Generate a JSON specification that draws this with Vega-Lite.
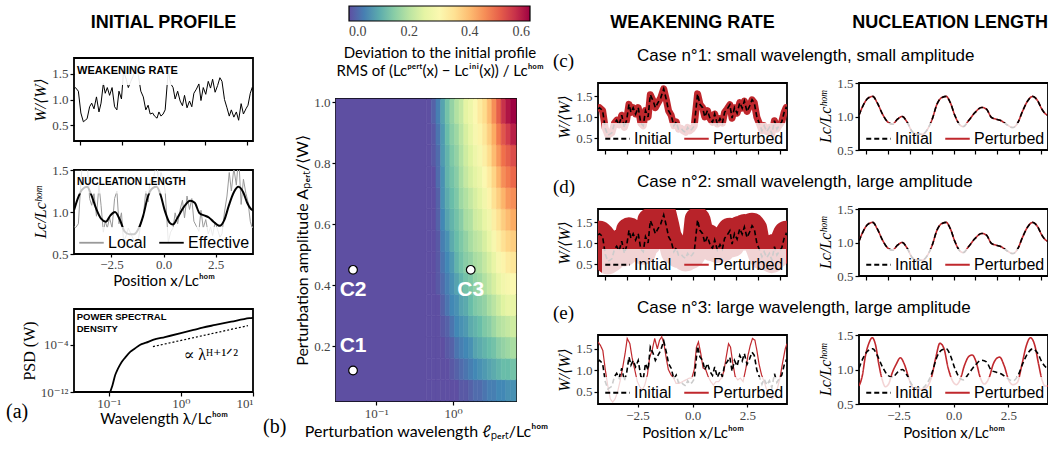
{
"$schema": "https://vega.github.io/schema/vega-lite/v6.json",
"background": "white",
"padding": {"left": 5, "top": 2, "right": 0, "bottom": 0},
"bounds": "flush",
"spacing": 262,
"resolve": {"scale": {"color": "independent", "strokeDash": "independent"}},
"hconcat": [
 {"spacing": 25,
  "resolve": {"scale": {"color": "independent", "strokeDash": "independent"}},
  "vconcat": [
   {"width": 179, "height": 1, "data": {"values": [{}]}, "mark": {"type": "text", "text": ""}, "view": {"stroke": null},
    "title": {"text": "INITIAL PROFILE", "orient": "bottom", "anchor": "middle", "frame": "group", "offset": 0, "font": "'Liberation Sans', Arial, sans-serif", "fontWeight": "bold", "fontSize": 18, "color": "black"}},
   {"spacing": 19,
    "resolve": {"scale": {"color": "independent", "strokeDash": "independent"}},
    "vconcat": [
     {"spacing": 16,
      "resolve": {"scale": {"color": "independent", "strokeDash": "independent"}},
      "vconcat": [
       {"width": 179, "height": 83,
        "layer": [
         {"data": {"name": "W"}, "mark": {"type": "line", "color": "black", "strokeWidth": 1, "clip": true},
          "encoding": {
           "x": {"field": "x", "type": "quantitative", "scale": {"domain": [-4.3, 4.3], "nice": false, "zero": false}, "axis": {"values": [-4,-3,-2,-1,0,1,2,3,4], "labels": false, "title": null}},
           "y": {"field": "w", "type": "quantitative", "scale": {"domain": [0.2, 1.8], "nice": false, "zero": false}, "axis": {"values": [0.5, 1, 1.5], "format": ".1f", "title": "W/⟨W⟩", "titleFont": "'Liberation Serif', 'DejaVu Serif', serif", "titleFontStyle": "italic", "titleFontSize": 16}}}},
         {"data": {"values": [{}]}, "mark": {"type": "rect", "fill": "white", "opacity": 0.9}, "encoding": {"x": {"datum": -4.25}, "x2": {"datum": 0.75}, "y": {"datum": 1.28}, "y2": {"datum": 1.78}}},
         {"data": {"values": [{}]}, "mark": {"type": "text", "text": "WEAKENING RATE", "align": "left", "baseline": "middle", "font": "'Liberation Sans', Arial, sans-serif", "fontWeight": "bold", "fontSize": 11, "color": "black"}, "encoding": {"x": {"datum": -4.15}, "y": {"datum": 1.55}}}
        ]},
       {"width": 179, "height": 84,
        "layer": [
         {"data": {"name": "W"}, "mark": {"type": "line", "strokeWidth": 1, "clip": true},
          "encoding": {
           "x": {"field": "x", "type": "quantitative", "scale": {"domain": [-4.3, 4.3], "nice": false, "zero": false}, "axis": {"values": [-2.5, 0, 2.5], "format": ".1f", "title": "Position x/Lcʰᵒᵐ", "tickSize": 3, "labelPadding": 1, "titlePadding": 2}},
           "y": {"field": "loc", "type": "quantitative", "scale": {"domain": [0.5, 1.5], "nice": false, "zero": false}, "axis": {"values": [0.5, 1, 1.5], "format": ".1f", "title": "Lc/Lcʰᵒᵐ", "titleFont": "'Liberation Serif', 'DejaVu Serif', serif", "titleFontStyle": "italic", "titleFontSize": 16}},
           "color": {"datum": "Local", "type": "nominal", "scale": {"domain": ["Local", "Effective"], "range": ["#9a9a9a", "black"]}, "legend": {"title": null}}}},
         {"data": {"name": "Lc"}, "mark": {"type": "line", "strokeWidth": 2, "interpolate": "monotone", "clip": true},
          "encoding": {
           "x": {"field": "x", "type": "quantitative"},
           "y": {"field": "lc", "type": "quantitative"},
           "color": {"datum": "Effective", "type": "nominal", "scale": {"domain": ["Local", "Effective"], "range": ["#9a9a9a", "black"]}, "legend": {"title": null}}}},
         {"data": {"values": [{}]}, "mark": {"type": "rect", "fill": "white", "opacity": 0.75}, "encoding": {"x": {"datum": -4.25}, "x2": {"datum": 1.2}, "y": {"datum": 1.22}, "y2": {"datum": 1.49}}},
         {"data": {"values": [{}]}, "mark": {"type": "text", "text": "NUCLEATION LENGTH", "align": "left", "baseline": "middle", "font": "'Liberation Sans', Arial, sans-serif", "fontWeight": "bold", "fontSize": 10, "color": "black"}, "encoding": {"x": {"datum": -4.15}, "y": {"datum": 1.355}}}
        ]}
      ]},
     {"width": 179, "height": 83,
      "title": {"text": "(a)", "orient": "bottom", "anchor": "start", "frame": "group", "dx": -68, "offset": -24, "font": "'Liberation Serif', 'DejaVu Serif', serif", "fontSize": 20, "fontWeight": "normal", "color": "black"},
      "layer": [
       {"data": {"name": "psd"}, "mark": {"type": "line", "color": "black", "strokeWidth": 1.8, "interpolate": "monotone", "clip": true},
        "encoding": {
         "x": {"field": "l", "type": "quantitative", "scale": {"type": "log", "domain": [0.033, 10], "nice": false}, "axis": {"values": [0.1, 1, 10], "labelExpr": "datum.value < 0.5 ? '10⁻¹' : datum.value < 5 ? '10⁰' : '10¹'", "title": "Wavelength λ/Lcʰᵒᵐ", "labelPadding": 1, "titlePadding": 1}},
         "y": {"field": "p", "type": "quantitative", "scale": {"type": "log", "domain": [1e-12, 130], "nice": false}, "axis": {"values": [1e-12, 0.0001], "labelExpr": "datum.value < 1e-8 ? '10⁻¹²' : '10⁻⁴'", "title": "PSD (W)", "titleFont": "'Liberation Serif', 'DejaVu Serif', serif", "titleFontSize": 16}}}},
       {"data": {"name": "psdfit"}, "mark": {"type": "line", "color": "black", "strokeWidth": 1.2, "strokeDash": [2, 2]},
        "encoding": {"x": {"field": "l", "type": "quantitative"}, "y": {"field": "p", "type": "quantitative"}}},
       {"data": {"values": [{}]}, "mark": {"type": "text", "text": "∝ λᴴ⁺¹ᐟ²", "font": "'Liberation Serif', 'DejaVu Serif', serif", "fontSize": 16, "align": "center", "baseline": "middle", "color": "black"}, "encoding": {"x": {"datum": 2.6}, "y": {"datum": 2e-6}}},
       {"data": {"values": [{}]}, "mark": {"type": "text", "text": ["POWER SPECTRAL", "DENSITY"], "font": "'Liberation Sans', Arial, sans-serif", "fontWeight": "bold", "fontSize": 9.5, "align": "left", "baseline": "top", "lineHeight": 12, "color": "black"}, "encoding": {"x": {"datum": 0.036}, "y": {"datum": 40}}}
      ]}
    ]}
  ]},
 {"bounds": "flush",
  "spacing": 262,
  "resolve": {"scale": {"color": "independent", "strokeDash": "independent"}},
  "hconcat": [
   {"spacing": -9,
    "resolve": {"scale": {"color": "independent", "strokeDash": "independent"}},
    "vconcat": [
     {"width": 180, "height": 1, "data": {"values": [{}]}, "mark": {"type": "text", "text": ""}, "view": {"stroke": null}},
     {"width": 180, "height": 302,
      "title": {"text": "(b)", "orient": "bottom", "anchor": "start", "frame": "group", "dx": -73, "offset": -22, "font": "'Liberation Serif', 'DejaVu Serif', serif", "fontSize": 20, "fontWeight": "normal", "color": "black"},
      "layer": [
       {"data": {"name": "hcells"},
        "transform": [
         {"lookup": "c", "from": {"data": {"name": "hcols"}, "key": "c", "fields": ["l1", "l2"]}},
         {"lookup": "r", "from": {"data": {"name": "hrows"}, "key": "r", "fields": ["a1", "a2"]}}
        ],
        "mark": {"type": "rect", "strokeWidth": 0.6},
        "encoding": {
         "x": {"field": "l1", "type": "quantitative", "scale": {"type": "log", "domain": [0.03, 6.6], "nice": false}, "axis": {"values": [0.1, 1], "labelExpr": "datum.value < 0.5 ? '10⁻¹' : '10⁰'", "title": "Perturbation wavelength ℓₚₑᵣₜ/Lcʰᵒᵐ", "titleFontSize": 16}},
         "x2": {"field": "l2"},
         "y": {"field": "a1", "type": "quantitative", "scale": {"domain": [0.02, 1.01], "nice": false, "zero": false}, "axis": {"values": [0.2, 0.4, 0.6, 0.8, 1.0], "format": ".1f", "title": "Perturbation amplitude Aₚₑᵣₜ/⟨W⟩", "titleFontSize": 16}},
         "y2": {"field": "a2"},
         "stroke": {"field": "v", "type": "quantitative", "scale": {"scheme": {"name": "spectral", "extent": [1, 0]}, "domain": [0, 0.6]}, "legend": null},
         "color": {"field": "v", "type": "quantitative", "scale": {"scheme": {"name": "spectral", "extent": [1, 0]}, "domain": [0, 0.6]},
          "legend": {"orient": "top", "direction": "horizontal", "gradientLength": 181, "gradientThickness": 15, "title": ["Deviation to the initial profile", "RMS of (Lcᵖᵉʳᵗ(x) − Lcⁱⁿⁱ(x)) / Lcʰᵒᵐ"], "titleOrient": "bottom", "titleAnchor": "middle", "titleLimit": 400, "titleFont": "Lato, 'Open Sans', sans-serif", "titleFontSize": 15, "titleFontWeight": "normal", "titleLineHeight": 18, "titlePadding": 7, "values": [0, 0.2, 0.4, 0.6], "format": ".1f", "labelFont": "'Liberation Serif', 'DejaVu Serif', serif", "labelFontSize": 14, "labelColor": "#444", "gradientStrokeColor": "black", "gradientStrokeWidth": 1.2, "offset": 20, "fillColor": "transparent", "padding": 0, "labelOffset": 4}}}},
       {"data": {"name": "hpts"}, "mark": {"type": "point", "shape": "circle", "filled": true, "fill": "white", "stroke": "black", "strokeWidth": 1.2, "size": 75, "opacity": 1},
        "encoding": {"x": {"field": "l", "type": "quantitative"}, "y": {"field": "a", "type": "quantitative"}}},
       {"data": {"name": "hlab"}, "mark": {"type": "text", "color": "white", "font": "'Liberation Sans', Arial, sans-serif", "fontWeight": "bold", "fontSize": 21, "baseline": "middle"},
        "encoding": {"x": {"field": "l", "type": "quantitative"}, "y": {"field": "a", "type": "quantitative"}, "text": {"field": "t"}}}
      ]}
    ]},
   {"spacing": 14,
    "resolve": {"scale": {"color": "independent", "strokeDash": "independent"}},
    "vconcat": [
     {"bounds": "flush", "spacing": 72,
      "hconcat": [
       {"width": 189, "height": 1, "data": {"values": [{}]}, "mark": {"type": "text", "text": ""}, "view": {"stroke": null},
        "title": {"text": "WEAKENING RATE", "orient": "bottom", "anchor": "middle", "frame": "group", "offset": 0, "font": "'Liberation Sans', Arial, sans-serif", "fontWeight": "bold", "fontSize": 18, "color": "black"}},
       {"width": 189, "height": 1, "data": {"values": [{}]}, "mark": {"type": "text", "text": ""}, "view": {"stroke": null},
        "title": {"text": "NUCLEATION LENGTH", "orient": "bottom", "anchor": "end", "frame": "group", "offset": 0, "font": "'Liberation Sans', Arial, sans-serif", "fontWeight": "bold", "fontSize": 18, "color": "black"}}
      ]},
     {"bounds": "flush", "spacing": 72,
      "resolve": {"scale": {"color": "independent", "strokeDash": "independent"}},
      "hconcat": [
       {"width": 189, "height": 67,
        "title": {"text": "(c)", "anchor": "start", "frame": "group", "dx": -45, "font": "'Liberation Serif', 'DejaVu Serif', serif", "fontSize": 19, "fontWeight": "normal", "offset": 12, "color": "black"},
        "data": {"name": "W"},
        "encoding": {
         "x": {"field": "x", "type": "quantitative", "scale": {"domain": [-4.3, 4.3], "nice": false, "zero": false}, "axis": {"values": [-4,-3,-2,-1,0,1,2,3,4], "labels": false, "title": null}},
         "y": {"field": "w", "type": "quantitative", "scale": {"domain": [0.22, 1.82], "nice": false, "zero": false}, "axis": {"values": [0.5, 1, 1.5], "format": ".1f", "title": "W/⟨W⟩", "titleFont": "'Liberation Serif', 'DejaVu Serif', serif", "titleFontStyle": "italic", "titleFontSize": 16}}},
        "layer": [
         {"mark": {"type": "line", "color": "#c0282d", "strokeWidth": 7, "strokeJoin": "round", "clip": true}},
         {"mark": {"type": "line", "strokeWidth": 1.6, "clip": true},
          "encoding": {
           "color": {"datum": "Initial", "type": "nominal", "scale": {"domain": ["Initial", "Perturbed"], "range": ["black", "#c0282d"]}, "legend": {"title": null}},
           "strokeDash": {"datum": "Initial", "type": "nominal", "scale": {"domain": ["Initial", "Perturbed"], "range": [[5, 3], [1, 0]]}, "legend": {"title": null}}}}
        ]},
       {"width": 189, "height": 67,
        "title": {"text": "Case n°1: small wavelength, small amplitude", "anchor": "start", "frame": "group", "dx": -222, "font": "'Liberation Sans', Arial, sans-serif", "fontSize": 17, "fontWeight": "normal", "offset": 12, "color": "black"},
        "data": {"name": "Lc"},
        "encoding": {
         "x": {"field": "x", "type": "quantitative", "scale": {"domain": [-4.3, 4.3], "nice": false, "zero": false}, "axis": {"values": [-4,-3,-2,-1,0,1,2,3,4], "labels": false, "title": null}},
         "y": {"field": "lc", "type": "quantitative", "scale": {"domain": [0.5, 1.5], "nice": false, "zero": false}, "axis": {"values": [0.5, 1, 1.5], "format": ".1f", "title": "Lc/Lcʰᵒᵐ", "titleFont": "'Liberation Serif', 'DejaVu Serif', serif", "titleFontStyle": "italic", "titleFontSize": 16}}},
        "layer": [
         {"mark": {"type": "line", "strokeWidth": 1.6, "interpolate": "monotone", "clip": true},
          "encoding": {
           "color": {"datum": "Perturbed", "type": "nominal", "scale": {"domain": ["Initial", "Perturbed"], "range": ["black", "#c0282d"]}, "legend": {"title": null}},
           "strokeDash": {"datum": "Perturbed", "type": "nominal", "scale": {"domain": ["Initial", "Perturbed"], "range": [[5, 3], [1, 0]]}, "legend": {"title": null}}}},
         {"mark": {"type": "line", "strokeWidth": 1.6, "interpolate": "monotone", "clip": true},
          "encoding": {"color": {"datum": "Initial", "type": "nominal"}, "strokeDash": {"datum": "Initial", "type": "nominal"}}}
        ]}
      ]},
     {"bounds": "flush", "spacing": 72,
      "resolve": {"scale": {"color": "independent", "strokeDash": "independent"}},
      "hconcat": [
       {"width": 189, "height": 67,
        "title": {"text": "(d)", "anchor": "start", "frame": "group", "dx": -45, "font": "'Liberation Serif', 'DejaVu Serif', serif", "fontSize": 19, "fontWeight": "normal", "offset": 12, "color": "black"},
        "data": {"name": "W"},
        "encoding": {
         "x": {"field": "x", "type": "quantitative", "scale": {"domain": [-4.3, 4.3], "nice": false, "zero": false}, "axis": {"values": [-4,-3,-2,-1,0,1,2,3,4], "labels": false, "title": null}},
         "y": {"field": "w", "type": "quantitative", "scale": {"domain": [0.22, 1.82], "nice": false, "zero": false}, "axis": {"values": [0.5, 1, 1.5], "format": ".1f", "title": "W/⟨W⟩", "titleFont": "'Liberation Serif', 'DejaVu Serif', serif", "titleFontStyle": "italic", "titleFontSize": 16}}},
        "layer": [
         {"mark": {"type": "line", "color": "#b8232a", "strokeWidth": 26, "strokeJoin": "round", "clip": true}},
         {"mark": {"type": "line", "strokeWidth": 1.6, "clip": true},
          "encoding": {
           "color": {"datum": "Initial", "type": "nominal", "scale": {"domain": ["Initial", "Perturbed"], "range": ["black", "#c0282d"]}, "legend": {"title": null}},
           "strokeDash": {"datum": "Initial", "type": "nominal", "scale": {"domain": ["Initial", "Perturbed"], "range": [[5, 3], [1, 0]]}, "legend": {"title": null}}}}
        ]},
       {"width": 189, "height": 67,
        "title": {"text": "Case n°2: small wavelength, large amplitude", "anchor": "start", "frame": "group", "dx": -222, "font": "'Liberation Sans', Arial, sans-serif", "fontSize": 17, "fontWeight": "normal", "offset": 12, "color": "black"},
        "data": {"name": "Lc"},
        "encoding": {
         "x": {"field": "x", "type": "quantitative", "scale": {"domain": [-4.3, 4.3], "nice": false, "zero": false}, "axis": {"values": [-4,-3,-2,-1,0,1,2,3,4], "labels": false, "title": null}},
         "y": {"field": "lc", "type": "quantitative", "scale": {"domain": [0.5, 1.5], "nice": false, "zero": false}, "axis": {"values": [0.5, 1, 1.5], "format": ".1f", "title": "Lc/Lcʰᵒᵐ", "titleFont": "'Liberation Serif', 'DejaVu Serif', serif", "titleFontStyle": "italic", "titleFontSize": 16}}},
        "layer": [
         {"mark": {"type": "line", "strokeWidth": 1.6, "interpolate": "monotone", "clip": true},
          "encoding": {
           "color": {"datum": "Perturbed", "type": "nominal", "scale": {"domain": ["Initial", "Perturbed"], "range": ["black", "#c0282d"]}, "legend": {"title": null}},
           "strokeDash": {"datum": "Perturbed", "type": "nominal", "scale": {"domain": ["Initial", "Perturbed"], "range": [[5, 3], [1, 0]]}, "legend": {"title": null}}}},
         {"mark": {"type": "line", "strokeWidth": 1.6, "interpolate": "monotone", "clip": true},
          "encoding": {"color": {"datum": "Initial", "type": "nominal"}, "strokeDash": {"datum": "Initial", "type": "nominal"}}}
        ]}
      ]},
     {"bounds": "flush", "spacing": 72,
      "resolve": {"scale": {"color": "independent", "strokeDash": "independent"}},
      "hconcat": [
       {"width": 189, "height": 69,
        "title": {"text": "(e)", "anchor": "start", "frame": "group", "dx": -45, "font": "'Liberation Serif', 'DejaVu Serif', serif", "fontSize": 19, "fontWeight": "normal", "offset": 12, "color": "black"},
        "encoding": {
         "x": {"field": "x", "type": "quantitative", "scale": {"domain": [-4.3, 4.3], "nice": false, "zero": false}, "axis": {"values": [-2.5, 0, 2.5], "format": ".1f", "title": "Position x/Lcʰᵒᵐ", "tickSize": 3}},
         "y": {"field": "w", "type": "quantitative", "scale": {"domain": [0.22, 1.82], "nice": false, "zero": false}, "axis": {"values": [0.5, 1, 1.5], "format": ".1f", "title": "W/⟨W⟩", "titleFont": "'Liberation Serif', 'DejaVu Serif', serif", "titleFontStyle": "italic", "titleFontSize": 16}}},
        "layer": [
         {"data": {"name": "We"}, "mark": {"type": "line", "strokeWidth": 1.2, "clip": true},
          "encoding": {
           "color": {"datum": "Perturbed", "type": "nominal", "scale": {"domain": ["Initial", "Perturbed"], "range": ["black", "#c0282d"]}, "legend": {"title": null}},
           "strokeDash": {"datum": "Perturbed", "type": "nominal", "scale": {"domain": ["Initial", "Perturbed"], "range": [[5, 3], [1, 0]]}, "legend": {"title": null}}}},
         {"data": {"name": "W"}, "mark": {"type": "line", "strokeWidth": 1.6, "clip": true},
          "encoding": {"color": {"datum": "Initial", "type": "nominal"}, "strokeDash": {"datum": "Initial", "type": "nominal"}}}
        ]},
       {"width": 189, "height": 69,
        "title": {"text": "Case n°3: large wavelength, large amplitude", "anchor": "start", "frame": "group", "dx": -222, "font": "'Liberation Sans', Arial, sans-serif", "fontSize": 17, "fontWeight": "normal", "offset": 12, "color": "black"},
        "encoding": {
         "x": {"field": "x", "type": "quantitative", "scale": {"domain": [-4.3, 4.3], "nice": false, "zero": false}, "axis": {"values": [-2.5, 0, 2.5], "format": ".1f", "title": "Position x/Lcʰᵒᵐ", "tickSize": 3}},
         "y": {"field": "lc", "type": "quantitative", "scale": {"domain": [0.5, 1.5], "nice": false, "zero": false}, "axis": {"values": [0.5, 1, 1.5], "format": ".1f", "title": "Lc/Lcʰᵒᵐ", "titleFont": "'Liberation Serif', 'DejaVu Serif', serif", "titleFontStyle": "italic", "titleFontSize": 16}}},
        "layer": [
         {"data": {"name": "Lce"}, "mark": {"type": "line", "strokeWidth": 1.6, "interpolate": "monotone", "clip": true},
          "encoding": {
           "color": {"datum": "Perturbed", "type": "nominal", "scale": {"domain": ["Initial", "Perturbed"], "range": ["black", "#c0282d"]}, "legend": {"title": null}},
           "strokeDash": {"datum": "Perturbed", "type": "nominal", "scale": {"domain": ["Initial", "Perturbed"], "range": [[5, 3], [1, 0]]}, "legend": {"title": null}}}},
         {"data": {"name": "Lc"}, "mark": {"type": "line", "strokeWidth": 1.6, "interpolate": "monotone", "clip": true},
          "encoding": {"color": {"datum": "Initial", "type": "nominal"}, "strokeDash": {"datum": "Initial", "type": "nominal"}}}
        ]}
      ]}
    ]}
  ]}
],
"datasets": {
 "W": [
  {"x":-4.3,"w":1.2,"loc":0.83},{"x":-4.23,"w":1.23,"loc":0.81},{"x":-4.09,"w":1.16,"loc":0.86},{"x":-3.97,"w":0.74,"loc":1.35},{"x":-3.85,"w":0.57,"loc":1.75},{"x":-3.76,"w":0.6,"loc":1.67},{"x":-3.67,"w":0.63,"loc":1.59},{"x":-3.55,"w":0.86,"loc":1.16},{"x":-3.45,"w":0.93,"loc":1.08},{"x":-3.34,"w":0.82,"loc":1.22},{"x":-3.22,"w":1.05,"loc":0.95},{"x":-3.1,"w":0.76,"loc":1.32},{"x":-3.0,"w":0.93,"loc":1.08},{"x":-2.89,"w":1.31,"loc":0.76},{"x":-2.8,"w":1.12,"loc":0.89},{"x":-2.7,"w":1.23,"loc":0.81},{"x":-2.59,"w":1.08,"loc":0.93},{"x":-2.47,"w":1.23,"loc":0.81},{"x":-2.35,"w":0.86,"loc":1.16},{"x":-2.24,"w":0.8,"loc":1.25},{"x":-2.14,"w":1.16,"loc":0.86},{"x":-2.02,"w":1.01,"loc":0.99},{"x":-1.92,"w":1.54,"loc":0.65},{"x":-1.79,"w":1.39,"loc":0.72},{"x":-1.69,"w":1.23,"loc":0.81},{"x":-1.57,"w":1.35,"loc":0.74},{"x":-1.45,"w":1.46,"loc":0.68},{"x":-1.31,"w":1.68,"loc":0.6},{"x":-1.19,"w":1.42,"loc":0.7},{"x":-1.09,"w":1.16,"loc":0.86},{"x":-0.97,"w":1.05,"loc":0.95},{"x":-0.85,"w":0.8,"loc":1.25},{"x":-0.74,"w":0.89,"loc":1.12},{"x":-0.64,"w":0.72,"loc":1.39},{"x":-0.52,"w":0.74,"loc":1.35},{"x":-0.43,"w":0.68,"loc":1.47},{"x":-0.31,"w":0.64,"loc":1.56},{"x":-0.22,"w":0.76,"loc":1.32},{"x":-0.12,"w":0.68,"loc":1.47},{"x":-0.02,"w":0.72,"loc":1.39},{"x":0.08,"w":0.8,"loc":1.25},{"x":0.23,"w":1.56,"loc":0.64},{"x":0.34,"w":1.31,"loc":0.76},{"x":0.46,"w":1.23,"loc":0.81},{"x":0.56,"w":1.01,"loc":0.99},{"x":0.68,"w":1.16,"loc":0.86},{"x":0.8,"w":0.97,"loc":1.03},{"x":0.91,"w":0.88,"loc":1.14},{"x":1.01,"w":1.08,"loc":0.93},{"x":1.13,"w":0.84,"loc":1.19},{"x":1.25,"w":0.97,"loc":1.03},{"x":1.36,"w":0.86,"loc":1.16},{"x":1.46,"w":1.12,"loc":0.89},{"x":1.58,"w":1.2,"loc":0.83},{"x":1.7,"w":1.3,"loc":0.77},{"x":1.8,"w":0.98,"loc":1.02},{"x":1.91,"w":1.23,"loc":0.81},{"x":2.03,"w":1.1,"loc":0.91},{"x":2.15,"w":1.35,"loc":0.74},{"x":2.26,"w":1.22,"loc":0.82},{"x":2.36,"w":1.39,"loc":0.72},{"x":2.48,"w":1.14,"loc":0.88},{"x":2.6,"w":1.27,"loc":0.79},{"x":2.71,"w":1.42,"loc":0.7},{"x":2.81,"w":1.35,"loc":0.74},{"x":2.93,"w":1.0,"loc":1.0},{"x":3.05,"w":0.84,"loc":1.19},{"x":3.16,"w":0.68,"loc":1.47},{"x":3.26,"w":0.8,"loc":1.25},{"x":3.38,"w":0.66,"loc":1.52},{"x":3.5,"w":0.76,"loc":1.32},{"x":3.61,"w":0.6,"loc":1.67},{"x":3.73,"w":0.92,"loc":1.09},{"x":3.84,"w":0.72,"loc":1.39},{"x":3.96,"w":0.82,"loc":1.22},{"x":4.06,"w":0.89,"loc":1.12},{"x":4.17,"w":1.12,"loc":0.89},{"x":4.26,"w":1.23,"loc":0.81},{"x":4.3,"w":1.2,"loc":0.83}
 ],
 "Lc": [
  {"x":-4.3,"lc":1.02},{"x":-4.12,"lc":1.16},{"x":-3.9,"lc":1.27},{"x":-3.67,"lc":1.3},{"x":-3.48,"lc":1.21},{"x":-3.22,"lc":1.03},{"x":-3.0,"lc":0.92},{"x":-2.77,"lc":0.885},{"x":-2.55,"lc":0.96},{"x":-2.33,"lc":1.0},{"x":-2.1,"lc":0.91},{"x":-1.87,"lc":0.77},{"x":-1.64,"lc":0.735},{"x":-1.42,"lc":0.735},{"x":-1.2,"lc":0.8},{"x":-0.97,"lc":0.96},{"x":-0.75,"lc":1.185},{"x":-0.52,"lc":1.285},{"x":-0.33,"lc":1.3},{"x":-0.15,"lc":1.21},{"x":0.07,"lc":1.01},{"x":0.3,"lc":0.87},{"x":0.45,"lc":0.85},{"x":0.68,"lc":0.935},{"x":0.98,"lc":1.06},{"x":1.28,"lc":1.135},{"x":1.5,"lc":1.11},{"x":1.73,"lc":0.985},{"x":1.95,"lc":0.96},{"x":2.18,"lc":0.935},{"x":2.4,"lc":0.885},{"x":2.7,"lc":0.835},{"x":2.93,"lc":0.91},{"x":3.15,"lc":1.085},{"x":3.38,"lc":1.235},{"x":3.6,"lc":1.3},{"x":3.83,"lc":1.235},{"x":4.02,"lc":1.11},{"x":4.2,"lc":1.035},{"x":4.3,"lc":1.02}
 ],
 "We": [
  {"x":-4.3,"w":1.66},{"x":-4.19,"w":1.58},{"x":-4.08,"w":1.46},{"x":-3.97,"w":1.02},{"x":-3.86,"w":0.66},{"x":-3.74,"w":0.34},{"x":-3.63,"w":0.26},{"x":-3.52,"w":0.34},{"x":-3.41,"w":0.5},{"x":-3.3,"w":0.74},{"x":-3.18,"w":1.06},{"x":-3.07,"w":1.38},{"x":-2.97,"w":1.74},{"x":-2.85,"w":1.62},{"x":-2.75,"w":1.3},{"x":-2.63,"w":1.02},{"x":-2.51,"w":0.74},{"x":-2.4,"w":0.62},{"x":-2.29,"w":0.54},{"x":-2.17,"w":0.66},{"x":-2.05,"w":0.9},{"x":-1.95,"w":1.3},{"x":-1.84,"w":1.46},{"x":-1.72,"w":1.74},{"x":-1.6,"w":1.5},{"x":-1.5,"w":1.7},{"x":-1.4,"w":1.78},{"x":-1.3,"w":1.62},{"x":-1.2,"w":1.3},{"x":-1.1,"w":1.02},{"x":-0.98,"w":0.9},{"x":-0.86,"w":0.82},{"x":-0.75,"w":0.7},{"x":-0.6,"w":0.7},{"x":-0.45,"w":0.74},{"x":-0.3,"w":0.78},{"x":-0.15,"w":0.82},{"x":-0.03,"w":0.82},{"x":0.08,"w":1.02},{"x":0.18,"w":1.54},{"x":0.27,"w":1.66},{"x":0.38,"w":1.38},{"x":0.48,"w":1.06},{"x":0.6,"w":1.02},{"x":0.71,"w":0.86},{"x":0.83,"w":0.74},{"x":0.95,"w":0.66},{"x":1.07,"w":0.74},{"x":1.19,"w":0.74},{"x":1.31,"w":0.82},{"x":1.43,"w":0.98},{"x":1.53,"w":1.3},{"x":1.64,"w":1.62},{"x":1.73,"w":1.54},{"x":1.83,"w":1.18},{"x":1.94,"w":0.86},{"x":2.06,"w":0.78},{"x":2.18,"w":0.82},{"x":2.3,"w":0.74},{"x":2.42,"w":1.02},{"x":2.52,"w":1.34},{"x":2.63,"w":1.58},{"x":2.73,"w":1.74},{"x":2.84,"w":1.7},{"x":2.93,"w":1.46},{"x":3.03,"w":1.14},{"x":3.14,"w":0.9},{"x":3.26,"w":0.74},{"x":3.38,"w":0.54},{"x":3.5,"w":0.46},{"x":3.62,"w":0.34},{"x":3.74,"w":0.42},{"x":3.86,"w":0.58},{"x":3.98,"w":0.82},{"x":4.1,"w":1.18},{"x":4.22,"w":1.5},{"x":4.3,"w":1.62}
 ],
 "Lce": [
  {"x":-4.3,"lc":0.76},{"x":-4.15,"lc":0.91},{"x":-4.0,"lc":1.21},{"x":-3.85,"lc":1.38},{"x":-3.7,"lc":1.46},{"x":-3.55,"lc":1.36},{"x":-3.4,"lc":1.08},{"x":-3.25,"lc":0.86},{"x":-3.1,"lc":0.75},{"x":-2.95,"lc":0.79},{"x":-2.8,"lc":0.94},{"x":-2.6,"lc":1.08},{"x":-2.42,"lc":1.17},{"x":-2.24,"lc":1.08},{"x":-2.05,"lc":0.89},{"x":-1.9,"lc":0.76},{"x":-1.68,"lc":0.71},{"x":-1.45,"lc":0.71},{"x":-1.23,"lc":0.74},{"x":-1.0,"lc":0.89},{"x":-0.8,"lc":1.18},{"x":-0.62,"lc":1.38},{"x":-0.44,"lc":1.31},{"x":-0.25,"lc":1.03},{"x":-0.05,"lc":0.84},{"x":0.13,"lc":0.78},{"x":0.31,"lc":0.86},{"x":0.5,"lc":1.06},{"x":0.7,"lc":1.19},{"x":0.85,"lc":1.21},{"x":1.03,"lc":1.11},{"x":1.21,"lc":0.89},{"x":1.4,"lc":0.79},{"x":1.63,"lc":0.89},{"x":1.81,"lc":1.08},{"x":2.0,"lc":1.17},{"x":2.1,"lc":1.18},{"x":2.3,"lc":1.06},{"x":2.52,"lc":0.84},{"x":2.7,"lc":0.78},{"x":2.9,"lc":0.81},{"x":3.12,"lc":1.08},{"x":3.3,"lc":1.33},{"x":3.5,"lc":1.46},{"x":3.69,"lc":1.36},{"x":3.87,"lc":1.08},{"x":4.02,"lc":0.86},{"x":4.17,"lc":0.76},{"x":4.3,"lc":0.76}
 ],
 "psd": [
  {"l":0.095,"p":1e-15},{"l":0.1,"p":1e-13},{"l":0.105,"p":1e-12},{"l":0.113,"p":1.6e-11},{"l":0.123,"p":7.9e-10},{"l":0.13,"p":4e-9},{"l":0.14,"p":2.5e-8},{"l":0.152,"p":1.4e-7},{"l":0.17,"p":7.9e-7},{"l":0.2,"p":7.2e-6},{"l":0.23,"p":2.5e-5},{"l":0.27,"p":0.0001},{"l":0.33,"p":0.00025},{"l":0.41,"p":0.00071},{"l":0.6,"p":0.0022},{"l":1.0,"p":0.01},{"l":1.5,"p":0.035},{"l":2,"p":0.089},{"l":3,"p":0.25},{"l":5,"p":0.89},{"l":8.9,"p":3.5},{"l":10,"p":4.2}
 ],
 "psdfit": [{"l":0.41,"p":5.2e-5},{"l":8.5,"p":0.19}],
 "hpts": [{"l":0.05,"a":0.12},{"l":0.05,"a":0.45},{"l":1.7,"a":0.45}],
 "hlab": [{"l":0.05,"a":0.2,"t":"C1"},{"l":0.05,"a":0.385,"t":"C2"},{"l":1.7,"a":0.385,"t":"C3"}],
 "hcols": [
  {"c":-1,"l1":0.03,"l2":0.45},{"c":0,"l1":0.45,"l2":0.52},{"c":1,"l1":0.52,"l2":0.6},{"c":2,"l1":0.6,"l2":0.69},{"c":3,"l1":0.69,"l2":0.79},{"c":4,"l1":0.79,"l2":0.91},{"c":5,"l1":0.91,"l2":1.05},{"c":6,"l1":1.05,"l2":1.2},{"c":7,"l1":1.2,"l2":1.38},{"c":8,"l1":1.38,"l2":1.59},{"c":9,"l1":1.59,"l2":1.83},{"c":10,"l1":1.83,"l2":2.1},{"c":11,"l1":2.1,"l2":2.42},{"c":12,"l1":2.42,"l2":2.78},{"c":13,"l1":2.78,"l2":3.2},{"c":14,"l1":3.2,"l2":3.68},{"c":15,"l1":3.68,"l2":4.23},{"c":16,"l1":4.23,"l2":4.86},{"c":17,"l1":4.86,"l2":5.6},{"c":18,"l1":5.6,"l2":6.6}
 ],
 "hrows": [
  {"r":-1,"a1":0.02,"a2":1.01},{"r":0,"a1":0.02,"a2":0.09},{"r":1,"a1":0.09,"a2":0.16},{"r":2,"a1":0.16,"a2":0.23},{"r":3,"a1":0.23,"a2":0.3},{"r":4,"a1":0.3,"a2":0.37},{"r":5,"a1":0.37,"a2":0.44},{"r":6,"a1":0.44,"a2":0.51},{"r":7,"a1":0.51,"a2":0.58},{"r":8,"a1":0.58,"a2":0.65},{"r":9,"a1":0.65,"a2":0.72},{"r":10,"a1":0.72,"a2":0.79},{"r":11,"a1":0.79,"a2":0.86},{"r":12,"a1":0.86,"a2":0.93},{"r":13,"a1":0.93,"a2":1.01}
 ],
 "hcells": [
  {"c":-1,"r":-1,"v":0},
  {"c":0,"r":0,"v":0},{"c":0,"r":1,"v":0},{"c":0,"r":2,"v":0},{"c":0,"r":3,"v":0},{"c":0,"r":4,"v":0},{"c":0,"r":5,"v":0},{"c":0,"r":6,"v":0},{"c":0,"r":7,"v":0},{"c":0,"r":8,"v":0},{"c":0,"r":9,"v":0},{"c":0,"r":10,"v":0},{"c":0,"r":11,"v":0},{"c":0,"r":12,"v":0},{"c":0,"r":13,"v":0},
  {"c":1,"r":0,"v":0},{"c":1,"r":1,"v":0},{"c":1,"r":2,"v":0},{"c":1,"r":3,"v":0},{"c":1,"r":4,"v":0},{"c":1,"r":5,"v":0},{"c":1,"r":6,"v":0},{"c":1,"r":7,"v":0},{"c":1,"r":8,"v":0},{"c":1,"r":9,"v":0},{"c":1,"r":10,"v":0},{"c":1,"r":11,"v":0.01},{"c":1,"r":12,"v":0.01},{"c":1,"r":13,"v":0.02},
  {"c":2,"r":0,"v":0},{"c":2,"r":1,"v":0},{"c":2,"r":2,"v":0},{"c":2,"r":3,"v":0},{"c":2,"r":4,"v":0},{"c":2,"r":5,"v":0.01},{"c":2,"r":6,"v":0.01},{"c":2,"r":7,"v":0.01},{"c":2,"r":8,"v":0.02},{"c":2,"r":9,"v":0.02},{"c":2,"r":10,"v":0.03},{"c":2,"r":11,"v":0.03},{"c":2,"r":12,"v":0.04},{"c":2,"r":13,"v":0.05},
  {"c":3,"r":0,"v":0},{"c":3,"r":1,"v":0},{"c":3,"r":2,"v":0},{"c":3,"r":3,"v":0.01},{"c":3,"r":4,"v":0.02},{"c":3,"r":5,"v":0.03},{"c":3,"r":6,"v":0.04},{"c":3,"r":7,"v":0.05},{"c":3,"r":8,"v":0.06},{"c":3,"r":9,"v":0.07},{"c":3,"r":10,"v":0.07},{"c":3,"r":11,"v":0.08},{"c":3,"r":12,"v":0.08},{"c":3,"r":13,"v":0.09},
  {"c":4,"r":0,"v":0},{"c":4,"r":1,"v":0},{"c":4,"r":2,"v":0.01},{"c":4,"r":3,"v":0.02},{"c":4,"r":4,"v":0.04},{"c":4,"r":5,"v":0.05},{"c":4,"r":6,"v":0.06},{"c":4,"r":7,"v":0.07},{"c":4,"r":8,"v":0.09},{"c":4,"r":9,"v":0.1},{"c":4,"r":10,"v":0.11},{"c":4,"r":11,"v":0.11},{"c":4,"r":12,"v":0.12},{"c":4,"r":13,"v":0.13},
  {"c":5,"r":0,"v":0},{"c":5,"r":1,"v":0.01},{"c":5,"r":2,"v":0.02},{"c":5,"r":3,"v":0.04},{"c":5,"r":4,"v":0.06},{"c":5,"r":5,"v":0.07},{"c":5,"r":6,"v":0.08},{"c":5,"r":7,"v":0.1},{"c":5,"r":8,"v":0.11},{"c":5,"r":9,"v":0.12},{"c":5,"r":10,"v":0.13},{"c":5,"r":11,"v":0.14},{"c":5,"r":12,"v":0.15},{"c":5,"r":13,"v":0.16},
  {"c":6,"r":0,"v":0},{"c":6,"r":1,"v":0.02},{"c":6,"r":2,"v":0.04},{"c":6,"r":3,"v":0.06},{"c":6,"r":4,"v":0.07},{"c":6,"r":5,"v":0.09},{"c":6,"r":6,"v":0.11},{"c":6,"r":7,"v":0.12},{"c":6,"r":8,"v":0.13},{"c":6,"r":9,"v":0.14},{"c":6,"r":10,"v":0.15},{"c":6,"r":11,"v":0.16},{"c":6,"r":12,"v":0.17},{"c":6,"r":13,"v":0.19},
  {"c":7,"r":0,"v":0.01},{"c":7,"r":1,"v":0.03},{"c":7,"r":2,"v":0.05},{"c":7,"r":3,"v":0.07},{"c":7,"r":4,"v":0.09},{"c":7,"r":5,"v":0.11},{"c":7,"r":6,"v":0.13},{"c":7,"r":7,"v":0.14},{"c":7,"r":8,"v":0.15},{"c":7,"r":9,"v":0.17},{"c":7,"r":10,"v":0.18},{"c":7,"r":11,"v":0.19},{"c":7,"r":12,"v":0.2},{"c":7,"r":13,"v":0.21},
  {"c":8,"r":0,"v":0.01},{"c":8,"r":1,"v":0.04},{"c":8,"r":2,"v":0.06},{"c":8,"r":3,"v":0.08},{"c":8,"r":4,"v":0.1},{"c":8,"r":5,"v":0.13},{"c":8,"r":6,"v":0.15},{"c":8,"r":7,"v":0.16},{"c":8,"r":8,"v":0.18},{"c":8,"r":9,"v":0.19},{"c":8,"r":10,"v":0.21},{"c":8,"r":11,"v":0.22},{"c":8,"r":12,"v":0.23},{"c":8,"r":13,"v":0.25},
  {"c":9,"r":0,"v":0.02},{"c":9,"r":1,"v":0.05},{"c":9,"r":2,"v":0.07},{"c":9,"r":3,"v":0.1},{"c":9,"r":4,"v":0.12},{"c":9,"r":5,"v":0.14},{"c":9,"r":6,"v":0.16},{"c":9,"r":7,"v":0.18},{"c":9,"r":8,"v":0.19},{"c":9,"r":9,"v":0.21},{"c":9,"r":10,"v":0.23},{"c":9,"r":11,"v":0.24},{"c":9,"r":12,"v":0.26},{"c":9,"r":13,"v":0.27},
  {"c":10,"r":0,"v":0.03},{"c":10,"r":1,"v":0.06},{"c":10,"r":2,"v":0.09},{"c":10,"r":3,"v":0.11},{"c":10,"r":4,"v":0.14},{"c":10,"r":5,"v":0.16},{"c":10,"r":6,"v":0.18},{"c":10,"r":7,"v":0.2},{"c":10,"r":8,"v":0.22},{"c":10,"r":9,"v":0.23},{"c":10,"r":10,"v":0.25},{"c":10,"r":11,"v":0.27},{"c":10,"r":12,"v":0.29},{"c":10,"r":13,"v":0.3},
  {"c":11,"r":0,"v":0.03},{"c":11,"r":1,"v":0.07},{"c":11,"r":2,"v":0.1},{"c":11,"r":3,"v":0.12},{"c":11,"r":4,"v":0.15},{"c":11,"r":5,"v":0.17},{"c":11,"r":6,"v":0.19},{"c":11,"r":7,"v":0.21},{"c":11,"r":8,"v":0.23},{"c":11,"r":9,"v":0.25},{"c":11,"r":10,"v":0.27},{"c":11,"r":11,"v":0.29},{"c":11,"r":12,"v":0.31},{"c":11,"r":13,"v":0.33},
  {"c":12,"r":0,"v":0.04},{"c":12,"r":1,"v":0.08},{"c":12,"r":2,"v":0.11},{"c":12,"r":3,"v":0.14},{"c":12,"r":4,"v":0.16},{"c":12,"r":5,"v":0.19},{"c":12,"r":6,"v":0.21},{"c":12,"r":7,"v":0.23},{"c":12,"r":8,"v":0.26},{"c":12,"r":9,"v":0.28},{"c":12,"r":10,"v":0.3},{"c":12,"r":11,"v":0.32},{"c":12,"r":12,"v":0.34},{"c":12,"r":13,"v":0.36},
  {"c":13,"r":0,"v":0.05},{"c":13,"r":1,"v":0.09},{"c":13,"r":2,"v":0.12},{"c":13,"r":3,"v":0.15},{"c":13,"r":4,"v":0.18},{"c":13,"r":5,"v":0.21},{"c":13,"r":6,"v":0.23},{"c":13,"r":7,"v":0.26},{"c":13,"r":8,"v":0.28},{"c":13,"r":9,"v":0.31},{"c":13,"r":10,"v":0.33},{"c":13,"r":11,"v":0.36},{"c":13,"r":12,"v":0.38},{"c":13,"r":13,"v":0.4},
  {"c":14,"r":0,"v":0.05},{"c":14,"r":1,"v":0.1},{"c":14,"r":2,"v":0.13},{"c":14,"r":3,"v":0.17},{"c":14,"r":4,"v":0.2},{"c":14,"r":5,"v":0.23},{"c":14,"r":6,"v":0.26},{"c":14,"r":7,"v":0.29},{"c":14,"r":8,"v":0.32},{"c":14,"r":9,"v":0.35},{"c":14,"r":10,"v":0.37},{"c":14,"r":11,"v":0.4},{"c":14,"r":12,"v":0.42},{"c":14,"r":13,"v":0.45},
  {"c":15,"r":0,"v":0.06},{"c":15,"r":1,"v":0.11},{"c":15,"r":2,"v":0.15},{"c":15,"r":3,"v":0.19},{"c":15,"r":4,"v":0.22},{"c":15,"r":5,"v":0.26},{"c":15,"r":6,"v":0.29},{"c":15,"r":7,"v":0.32},{"c":15,"r":8,"v":0.35},{"c":15,"r":9,"v":0.38},{"c":15,"r":10,"v":0.41},{"c":15,"r":11,"v":0.44},{"c":15,"r":12,"v":0.47},{"c":15,"r":13,"v":0.5},
  {"c":16,"r":0,"v":0.06},{"c":16,"r":1,"v":0.12},{"c":16,"r":2,"v":0.16},{"c":16,"r":3,"v":0.2},{"c":16,"r":4,"v":0.24},{"c":16,"r":5,"v":0.28},{"c":16,"r":6,"v":0.31},{"c":16,"r":7,"v":0.35},{"c":16,"r":8,"v":0.38},{"c":16,"r":9,"v":0.41},{"c":16,"r":10,"v":0.45},{"c":16,"r":11,"v":0.48},{"c":16,"r":12,"v":0.51},{"c":16,"r":13,"v":0.55},
  {"c":17,"r":0,"v":0.07},{"c":17,"r":1,"v":0.12},{"c":17,"r":2,"v":0.17},{"c":17,"r":3,"v":0.21},{"c":17,"r":4,"v":0.26},{"c":17,"r":5,"v":0.29},{"c":17,"r":6,"v":0.33},{"c":17,"r":7,"v":0.37},{"c":17,"r":8,"v":0.4},{"c":17,"r":9,"v":0.44},{"c":17,"r":10,"v":0.47},{"c":17,"r":11,"v":0.5},{"c":17,"r":12,"v":0.54},{"c":17,"r":13,"v":0.58},
  {"c":18,"r":0,"v":0.07},{"c":18,"r":1,"v":0.13},{"c":18,"r":2,"v":0.18},{"c":18,"r":3,"v":0.22},{"c":18,"r":4,"v":0.26},{"c":18,"r":5,"v":0.3},{"c":18,"r":6,"v":0.34},{"c":18,"r":7,"v":0.38},{"c":18,"r":8,"v":0.42},{"c":18,"r":9,"v":0.45},{"c":18,"r":10,"v":0.49},{"c":18,"r":11,"v":0.52},{"c":18,"r":12,"v":0.57},{"c":18,"r":13,"v":0.6}
 ]
},
"config": {
 "view": {"stroke": "black", "strokeWidth": 1.8},
 "axis": {"domain": false, "grid": false, "labelFont": "'Liberation Serif', 'DejaVu Serif', serif", "labelFontSize": 13, "labelColor": "#444", "tickColor": "black", "tickSize": 4, "tickWidth": 1.2, "titleFont": "Lato, 'Open Sans', sans-serif", "titleFontSize": 15, "titleFontWeight": "normal", "titleColor": "black", "labelPadding": 2, "titlePadding": 3},
 "legend": {"orient": "bottom-right", "direction": "horizontal", "offset": 1, "padding": 2, "fillColor": "rgba(255,255,255,0.8)", "symbolType": "stroke", "symbolSize": 600, "symbolStrokeWidth": 1.8, "labelFont": "'Liberation Sans', Arial, sans-serif", "labelFontSize": 16, "labelColor": "black", "columnPadding": 8, "labelOffset": 3, "titleColor": "black"},
 "title": {"color": "black", "fontWeight": "normal"}
}
}
